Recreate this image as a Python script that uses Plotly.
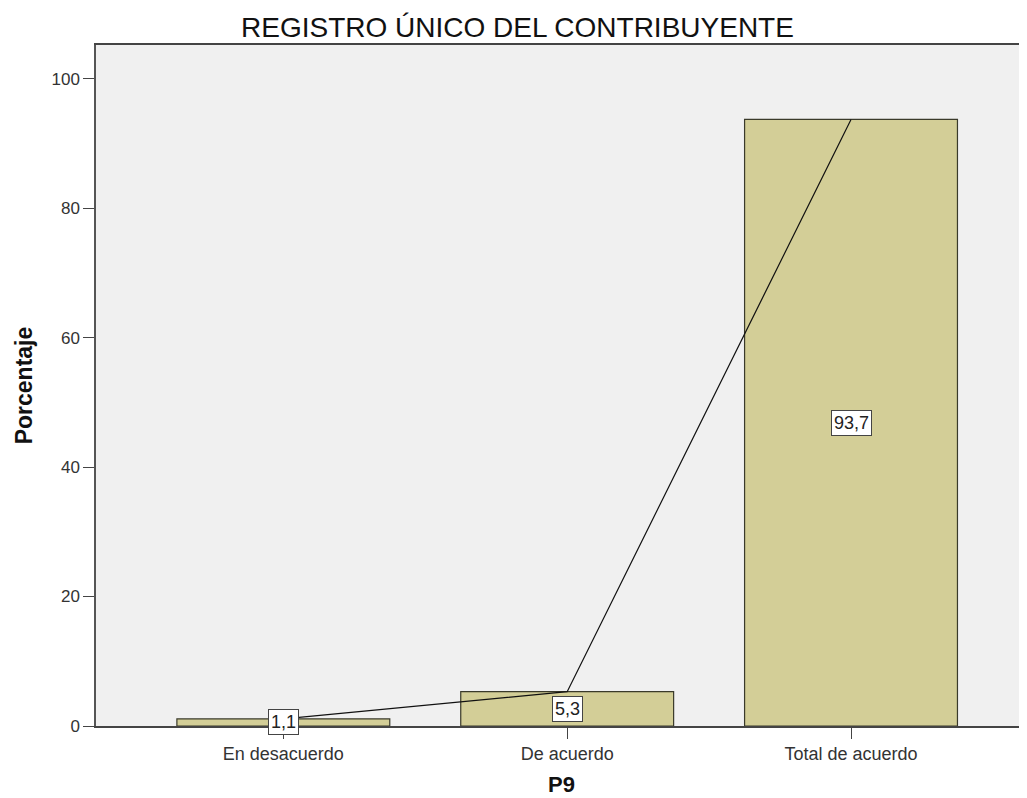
import plotly.graph_objects as go

categorias = ["En desacuerdo", "De acuerdo", "Total de acuerdo"]
porcentajes = [1.1, 5.3, 93.7]
etiquetas = ["1,1", "5,3", "93,7"]
ticks_y = [0, 20, 40, 60, 80, 100]

fig = go.Figure()

fig.add_trace(go.Bar(
    x=categorias, y=porcentajes,
    width=0.75,
    marker=dict(color="#D3CE97", line=dict(color="#3a3a2a", width=1.2)),
    hoverinfo="none",
    showlegend=False,
))

fig.add_trace(go.Scatter(
    x=categorias, y=porcentajes,
    mode="lines",
    line=dict(color="#111111", width=1.2),
    hoverinfo="none",
    showlegend=False,
))

for cat, val, txt in zip(categorias, porcentajes, etiquetas):
    fig.add_annotation(
        x=cat, y=val / 2, text=txt, showarrow=False,
        font=dict(family="Arial, Liberation Sans", size=18, color="#222"),
        bgcolor="white", bordercolor="#444", borderwidth=1, borderpad=2,
    )

# titulo del eje x como anotacion para ubicarlo bien
fig.add_annotation(
    x=0.5, y=-0.0866, xref="paper", yref="paper", yanchor="middle",
    text="<b>P9</b>", showarrow=False,
    font=dict(family="Arial, Liberation Sans", size=22, color="#111"),
)

# la pagina agrega 8px de margen, por eso el ancho es 1019 x 790
fig.update_layout(
    width=1019, height=790,
    paper_bgcolor="white",
    plot_bgcolor="#F0F0F0",
    margin=dict(l=88, r=0, t=37, b=72),
    font=dict(family="Arial, Liberation Sans", color="#222"),
    title=dict(text="REGISTRO ÚNICO DEL CONTRIBUYENTE", x=0.5, xanchor="center",
               y=0.976, yanchor="middle",
               font=dict(size=28, color="#111")),
    xaxis=dict(
        range=[-0.66, 2.62],
        showgrid=False, zeroline=False,
        showline=True, linecolor="#444", linewidth=1.5, mirror=True,
        ticks="outside", ticklen=11, tickcolor="#444",
        tickfont=dict(size=18, color="#333"),
    ),
    yaxis=dict(
        range=[0, 105.2],
        tickvals=ticks_y,
        showgrid=False, zeroline=False,
        showline=True, linecolor="#555", linewidth=1.5,
        ticks="outside", ticklen=11, tickcolor="#444",
        tickfont=dict(size=17, color="#333"),
        title=dict(text="<b>Porcentaje</b>", font=dict(size=23, color="#111"), standoff=12),
    ),
)

fig.write_html("out.html")
